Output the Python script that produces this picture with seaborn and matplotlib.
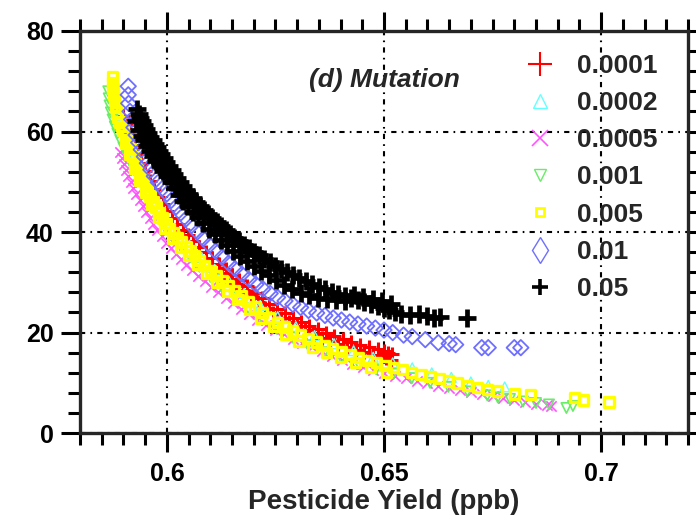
import numpy as np
import pandas as pd
import matplotlib
matplotlib.use('Agg')
import matplotlib.pyplot as plt
from matplotlib.ticker import MultipleLocator, FixedLocator
from matplotlib.lines import Line2D
import seaborn as sns

# series (x = pesticide yield, y = objective)
rate_labels = ['0.0001', '0.0002', '0.0005', '0.001', '0.005', '0.01', '0.05']

x_0001 = [0.5900, 0.5908, 0.5916, 0.5924, 0.5932, 0.5941, 0.5950, 0.5960, 0.5970, 0.5980, 0.5990,
          0.6000, 0.6012, 0.6024, 0.6036, 0.6048, 0.6061, 0.6075, 0.6089, 0.6104, 0.6119, 0.6135,
          0.6151, 0.6167, 0.6184, 0.6201, 0.6218, 0.6236, 0.6254, 0.6272, 0.6290, 0.6309, 0.6328,
          0.6347, 0.6366, 0.6385, 0.6405, 0.6425, 0.6445, 0.6465, 0.6485, 0.6500, 0.6510, 0.6518]
y_0001 = [63.0, 61.3, 59.8, 57.4, 55.5, 53.8, 52.1, 50.2, 48.6, 47.0, 45.6,
          44.2, 42.8, 41.6, 40.5, 39.4, 38.3, 37.1, 36.0, 34.8, 33.7, 32.6,
          31.5, 30.4, 29.3, 27.9, 26.8, 25.7, 24.7, 23.8, 23.0, 22.2, 21.4,
          20.7, 20.0, 19.4, 18.8, 18.2, 17.6, 17.1, 16.7, 16.3, 16.0, 15.8]
# lower edge of the red band
x_0001b = [0.6127, 0.6143, 0.6159, 0.6176, 0.6193, 0.6210, 0.6227, 0.6245, 0.6263, 0.6281, 0.6300,
           0.6319, 0.6338, 0.6357, 0.6376, 0.6395, 0.6415, 0.6435, 0.6455, 0.6475, 0.6492, 0.6505,
           0.6515]
y_0001b = [31.8, 30.7, 29.7, 28.5, 27.3, 26.0, 24.9, 23.9, 22.9, 22.1, 21.3,
           20.5, 19.7, 19.0, 18.4, 17.8, 17.2, 16.6, 16.1, 15.6, 15.2, 14.9,
           14.6]

x_0002 = [0.5880, 0.5884, 0.5890, 0.5897, 0.5905, 0.5914, 0.5924, 0.5936, 0.5950, 0.5966, 0.5984,
          0.6004, 0.6027, 0.6052, 0.6080, 0.6110, 0.6143, 0.6178, 0.6215, 0.6255, 0.6297, 0.6340,
          0.6385, 0.6430, 0.6475, 0.6520, 0.6565, 0.6610, 0.6655, 0.6700, 0.6740, 0.6778]
y_0002 = [67.5, 65.5, 63.5, 61.5, 59.5, 57.5, 55.5, 53.0, 50.2, 47.2, 44.4,
          41.9, 39.6, 37.4, 35.0, 32.6, 30.2, 27.8, 25.4, 23.2, 21.2, 19.4,
          17.8, 16.4, 15.1, 14.0, 13.0, 12.0, 11.1, 10.2, 9.5, 9.2]

x_0005 = [0.5893, 0.5897, 0.5901, 0.5906, 0.5911, 0.5917, 0.5923, 0.5930, 0.5937, 0.5944, 0.5952,
          0.5960, 0.5969, 0.5978, 0.5988, 0.5998, 0.6009, 0.6020, 0.6032, 0.6045, 0.6058, 0.6072,
          0.6087, 0.6102, 0.6118, 0.6135, 0.6152, 0.6170, 0.6189, 0.6208, 0.6228, 0.6248, 0.6269,
          0.6290, 0.6312, 0.6334, 0.6357, 0.6380, 0.6403, 0.6427, 0.6451, 0.6475, 0.6500, 0.6525,
          0.6550, 0.6575, 0.6600, 0.6625, 0.6650, 0.6675, 0.6700, 0.6725, 0.6750, 0.6775, 0.6800,
          0.6825, 0.6850, 0.6875, 0.6885]
y_0005 = [56.0, 54.8, 53.6, 52.4, 51.2, 50.0, 48.8, 47.6, 46.4, 45.2, 44.0,
          42.8, 41.6, 40.4, 39.2, 37.8, 36.8, 35.7, 34.6, 33.5, 32.4, 31.3,
          30.2, 29.1, 28.0, 26.9, 25.8, 24.7, 23.6, 22.6, 21.6, 20.6, 19.7,
          18.8, 18.0, 17.2, 16.3, 15.4, 14.6, 13.8, 13.1, 12.5, 11.9, 11.4,
          10.9, 10.4, 9.9, 9.4, 9.0, 8.6, 8.2, 7.8, 7.4, 7.0, 6.6,
          6.2, 5.8, 5.5, 5.4]

x_001 = [0.5865, 0.5866, 0.5868, 0.5871, 0.5875, 0.5880, 0.5886, 0.5893, 0.5900, 0.5908, 0.5916,
         0.5925, 0.5935, 0.5945, 0.5955, 0.5968, 0.5982, 0.5998, 0.6015, 0.6034, 0.6054, 0.6075,
         0.6100, 0.6127, 0.6156, 0.6187, 0.6220, 0.6254, 0.6289, 0.6325, 0.6363, 0.6402, 0.6442,
         0.6482, 0.6522, 0.6564, 0.6606, 0.6648, 0.6692, 0.6738, 0.6762, 0.6790, 0.6820, 0.6850,
         0.6880, 0.6920, 0.6935]
y_001 = [68.0, 66.6, 65.2, 63.8, 62.4, 61.0, 59.6, 58.2, 56.8, 55.3, 53.8,
         52.3, 50.7, 49.0, 47.2, 45.0, 42.8, 40.5, 38.6, 36.8, 35.0, 33.1,
         31.1, 29.0, 27.0, 24.8, 22.6, 20.7, 19.0, 17.5, 16.1, 14.9, 13.7,
         12.7, 11.8, 10.9, 10.0, 9.2, 8.3, 7.5, 7.1, 6.8, 6.3, 6.0,
         5.7, 5.0, 5.4]

x_005 = [0.5875, 0.5875, 0.5876, 0.5877, 0.5879, 0.5881, 0.5884, 0.5887, 0.5891, 0.5895, 0.5899,
         0.5904, 0.5910, 0.5916, 0.5922, 0.5927, 0.5932, 0.5938, 0.5944, 0.5950, 0.5955, 0.5961,
         0.5968, 0.5975, 0.5982, 0.5990, 0.5998, 0.6006, 0.6015, 0.6024, 0.6034, 0.6044, 0.6054,
         0.6064, 0.6075, 0.6087, 0.6100, 0.6113, 0.6127, 0.6141, 0.6156, 0.6171, 0.6187, 0.6203,
         0.6220, 0.6237, 0.6254, 0.6271, 0.6289, 0.6307, 0.6325, 0.6344, 0.6363, 0.6382, 0.6402,
         0.6422, 0.6442, 0.6462, 0.6482, 0.6502, 0.6522, 0.6543, 0.6564, 0.6585, 0.6606, 0.6627,
         0.6648, 0.6670, 0.6692, 0.6715, 0.6738, 0.6762, 0.6800, 0.6838, 0.6938, 0.6960, 0.7018]
y_005 = [71.0, 69.8, 68.6, 67.4, 66.2, 65.0, 63.9, 62.9, 61.9, 61.0, 60.3,
         59.1, 57.9, 56.5, 55.0, 53.8, 52.7, 51.5, 50.4, 49.3, 48.3, 47.2,
         46.1, 45.0, 43.9, 42.8, 41.7, 40.7, 39.8, 38.9, 38.0, 37.1, 36.2,
         35.3, 34.4, 33.4, 32.4, 31.4, 30.4, 29.4, 28.4, 27.3, 26.2, 25.1,
         24.0, 23.0, 22.0, 21.1, 20.3, 19.5, 18.8, 18.1, 17.4, 16.8, 16.2,
         15.6, 15.0, 14.5, 14.0, 13.5, 13.0, 12.6, 12.1, 11.7, 11.2, 10.8,
         10.4, 10.0, 9.5, 9.1, 8.7, 8.4, 7.8, 7.7, 7.1, 6.6, 6.2]
# lower edge of the yellow band
x_005b = [0.5905, 0.5915, 0.5926, 0.5938, 0.5951, 0.5965, 0.5980, 0.5996, 0.6013, 0.6031, 0.6050,
          0.6070, 0.6092, 0.6115, 0.6139, 0.6164, 0.6190, 0.6217, 0.6245, 0.6274, 0.6304, 0.6335,
          0.6367, 0.6400, 0.6434, 0.6469, 0.6505]
y_005b = [57.6, 55.4, 52.7, 50.2, 47.8, 45.5, 42.9, 40.7, 38.7, 37.0, 35.3,
          33.5, 31.7, 30.0, 28.3, 26.6, 24.7, 22.9, 21.2, 19.7, 18.3, 17.1,
          16.0, 15.0, 14.0, 13.0, 12.1]

x_01 = [0.5911, 0.5911, 0.5912, 0.5915, 0.5919, 0.5924, 0.5929, 0.5935, 0.5941, 0.5948, 0.5955,
        0.5963, 0.5971, 0.5980, 0.5990, 0.6000, 0.6010, 0.6021, 0.6032, 0.6044, 0.6057, 0.6070,
        0.6084, 0.6098, 0.6112, 0.6127, 0.6142, 0.6157, 0.6173, 0.6189, 0.6205, 0.6221, 0.6238,
        0.6255, 0.6272, 0.6290, 0.6308, 0.6326, 0.6345, 0.6364, 0.6383, 0.6402, 0.6421, 0.6440,
        0.6460, 0.6480, 0.6500, 0.6520, 0.6545, 0.6565, 0.6595, 0.6625, 0.6650, 0.6665, 0.6725,
        0.6740, 0.6800, 0.6815]
y_01 = [69.0, 67.3, 65.6, 64.0, 62.4, 60.8, 59.3, 57.8, 56.4, 55.0, 53.7,
        52.4, 51.1, 49.9, 48.7, 47.6, 46.3, 45.0, 43.8, 42.6, 41.3, 40.0,
        38.7, 37.4, 36.2, 35.0, 33.8, 32.7, 31.6, 30.6, 29.6, 28.7, 27.8,
        27.0, 26.3, 25.6, 25.0, 24.4, 23.9, 23.4, 22.9, 22.5, 22.1, 21.7,
        21.3, 20.9, 20.5, 20.0, 19.5, 19.2, 18.6, 18.0, 17.8, 17.6, 17.0,
        17.0, 17.0, 17.0]

x_05 = [0.5932, 0.5935, 0.5938, 0.5942, 0.5947, 0.5952, 0.5957, 0.5962, 0.5967, 0.5972, 0.5977,
        0.5982, 0.5987, 0.5993, 0.5999, 0.6005, 0.6011, 0.6017, 0.6023, 0.6030, 0.6037, 0.6044,
        0.6052, 0.6060, 0.6068, 0.6077, 0.6086, 0.6095, 0.6105, 0.6115, 0.6125, 0.6135, 0.6145,
        0.6155, 0.6166, 0.6177, 0.6188, 0.6200, 0.6212, 0.6224, 0.6237, 0.6250, 0.6263, 0.6277,
        0.6291, 0.6305, 0.6320, 0.6335, 0.6350, 0.6365, 0.6380, 0.6395, 0.6410, 0.6425, 0.6440,
        0.6455, 0.6470, 0.6485, 0.6500, 0.6512, 0.6525, 0.6538, 0.6560, 0.6580, 0.6600, 0.6615,
        0.6630, 0.6690]
y_05 = [64.5, 63.5, 62.7, 62.0, 61.3, 60.5, 59.7, 59.0, 58.3, 57.6, 56.9,
        56.2, 55.5, 54.8, 54.0, 53.2, 52.4, 51.6, 50.8, 50.0, 49.2, 48.4,
        47.6, 46.8, 46.0, 45.2, 44.4, 43.6, 42.8, 42.0, 41.2, 40.4, 39.6,
        38.9, 38.2, 37.5, 36.8, 36.1, 35.4, 34.7, 34.0, 33.3, 32.6, 32.0,
        31.4, 30.8, 30.2, 29.6, 29.1, 28.6, 28.1, 27.6, 27.2, 26.8, 26.4,
        26.0, 25.6, 25.2, 24.8, 24.4, 24.0, 23.7, 23.5, 23.6, 23.3, 23.0,
        23.2, 22.9]
# second row of black crosses (lower edge of the band, ragged top near the end)
x_05b = [0.5930, 0.5936, 0.5942, 0.5948, 0.5955, 0.5962, 0.5969, 0.5976, 0.5984, 0.5992, 0.6000,
         0.6009, 0.6018, 0.6028, 0.6038, 0.6049, 0.6060, 0.6072, 0.6084, 0.6097, 0.6110, 0.6124,
         0.6138, 0.6153, 0.6168, 0.6184, 0.6200, 0.6217, 0.6234, 0.6252, 0.6270, 0.6289, 0.6308,
         0.6328, 0.6348, 0.6368, 0.6389, 0.6410, 0.6431, 0.6452, 0.6474, 0.6496, 0.6515]
y_05b = [62.0, 60.4, 59.2, 58.3, 57.2, 56.2, 55.2, 54.2, 53.1, 52.1, 51.1,
         49.9, 48.7, 47.4, 46.2, 45.1, 44.0, 42.9, 41.8, 40.6, 39.6, 38.5,
         37.4, 36.2, 35.3, 34.3, 33.3, 32.3, 31.4, 30.4, 29.5, 28.7, 27.9,
         27.4, 26.9, 26.6, 26.4, 26.3, 27.5, 27.1, 26.7, 26.2, 25.6]

xs = [x_0001 + x_0001b, x_0002, x_0005, x_001, x_005 + x_005b, x_01, x_05 + x_05b]
ys = [y_0001 + y_0001b, y_0002, y_0005, y_001, y_005 + y_005b, y_01, y_05 + y_05b]

xtick_vals = [0.6, 0.65, 0.7]
xtick_labels = ['0.6', '0.65', '0.7']
ytick_vals = [0, 20, 40, 60, 80]

colors = ['#ff0000', '#66ffff', '#ff55ff', '#66ee66', '#ffff00', '#6f6fff', '#000000']
markers = ['+', '^', 'x', 'v', 's', 'D', '+']
sizes = [110, 50, 55, 55, 45, 62, 150]
widths = [2.2, 1.0, 1.2, 1.2, 2.4, 1.3, 3.4]
is_open = [False, True, False, True, True, True, False]

sns.set_style('ticks')
plt.rcParams['font.family'] = ['Liberation Sans', 'DejaVu Sans']
plt.rcParams['font.weight'] = 'bold'

fig = plt.figure(figsize=(6.96, 5.25), dpi=100)
ax = fig.add_axes([0.115, 0.175, 0.8735, 0.766])

for i in range(len(rate_labels)):
    df = pd.DataFrame({'x': xs[i], 'y': ys[i]})
    if is_open[i]:
        sns.scatterplot(data=df, x='x', y='y', ax=ax, marker=markers[i], s=sizes[i],
                        color=colors[i], facecolors='none', edgecolor=colors[i],
                        linewidth=widths[i], zorder=3 + i)
    else:
        sns.scatterplot(data=df, x='x', y='y', ax=ax, marker=markers[i], s=sizes[i],
                        color=colors[i], linewidth=widths[i], zorder=3 + i)

ax.set_xlim(0.58, 0.72)
ax.set_ylim(0, 80)
ax.xaxis.set_major_locator(FixedLocator(xtick_vals))
ax.set_xticklabels(xtick_labels)
ax.xaxis.set_minor_locator(MultipleLocator(0.005))
ax.yaxis.set_major_locator(FixedLocator(ytick_vals))
ax.yaxis.set_minor_locator(MultipleLocator(4))

for sp in ax.spines.values():
    sp.set_visible(True)
    sp.set_linewidth(2.4)
ax.tick_params(which='both', direction='out', top=True, right=True, width=2.2,
               labelsize=18, colors='black')
ax.tick_params(which='major', length=14, pad=5)
ax.tick_params(which='minor', length=8.5)
ax.tick_params(axis='x', which='major', pad=7)

ax.grid(True, which='major', color='black', linewidth=1.5,
        linestyle=(0, (2.5, 2.5, 0.8, 2.5)))
ax.set_axisbelow(True)

ax.set_xlabel('Pesticide Yield (ppb)', fontsize=20, fontweight='bold', labelpad=2)
ax.set_ylabel('')
ax.text(0.65, 70.2, '(d) Mutation', fontsize=19, fontweight='bold', style='italic',
        ha='center', va='center')

# legend symbols as drawn in the key
leg_sizes = [17, 10, 12, 8, 6, 13, 11]
leg_markers = ['+', '^', 'x', 'v', 's', 'd', '+']
leg_widths = [1.5, 1.0, 1.2, 1.0, 2.0, 1.0, 2.6]
handles = []
for i in range(len(rate_labels)):
    handles.append(Line2D([], [], linestyle='none', marker=leg_markers[i],
                          markersize=leg_sizes[i], markeredgewidth=leg_widths[i],
                          markeredgecolor=colors[i],
                          markerfacecolor='none' if is_open[i] else colors[i]))
ax.legend(handles, rate_labels, loc='upper left', bbox_to_anchor=(0.735, 0.943),
          frameon=False, fontsize=19, handlelength=1.0, handletextpad=0.9,
          labelspacing=0.5, borderpad=0, borderaxespad=0)

fig.savefig('out.png', dpi=100)
